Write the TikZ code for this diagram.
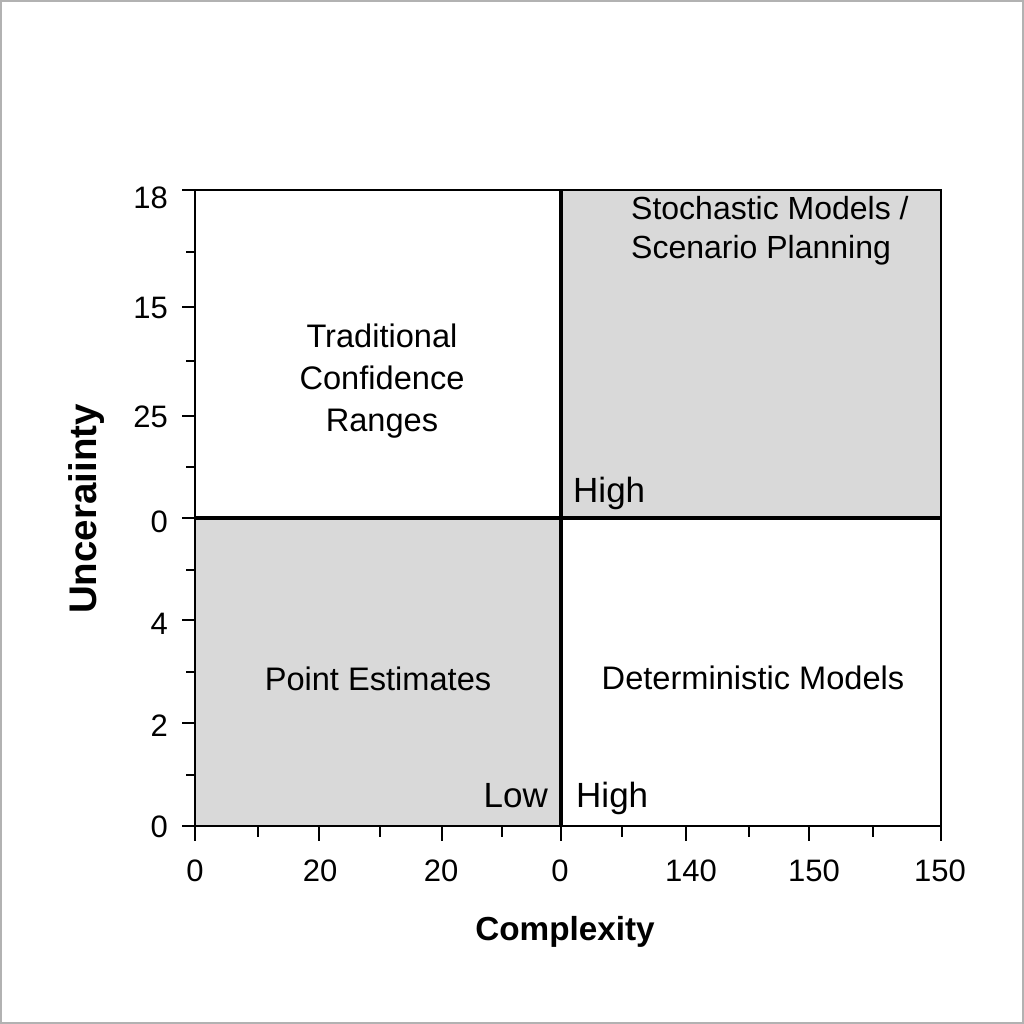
\documentclass[tikz,border=0pt]{standalone}
\usepackage{fontspec}
\setmainfont{Liberation Sans}
\begin{document}
\begin{tikzpicture}[x=1pt, y=-1pt,
    etiqueta/.style={inner sep=0pt, font=\fontsize{32.6}{40}\selectfont},
    extremo/.style={inner sep=0pt, font=\fontsize{35}{40}\selectfont},
    marca/.style={inner sep=0pt, font=\fontsize{31}{36}\selectfont},
    titulo/.style={inner sep=0pt, font=\bfseries\fontsize{33.3}{40}\selectfont}]
    \useasboundingbox (0,0) rectangle (1024,1024);
    % Marco exterior
    \draw[line width=2pt, black!30] (1,1) rectangle (1023,1023);

    % Cuadrantes
    \fill[black!15] (561,190) rectangle (941,518);
    \fill[black!15] (195,518) rectangle (561,826);
    \draw[line width=1.8pt] (195,190) rectangle (941,826);
    \draw[line width=3.5pt] (561,190) -- (561,826);
    \draw[line width=3.5pt] (195,518) -- (941,518);

    % Eje vertical
    \foreach \y/\ly/\t [count=\i] in {190/198/18, 307/308/15, 416/417/25, 518/522/0, 620/624/4, 723/726/2, 826/827/0}{
        \draw[line width=1.8pt] (182,\y) -- (195,\y);
        \node[marca, anchor=east] (my\i) at (168,\ly) {\t};
    }
    \foreach \y in {252, 361, 467, 570, 672, 775}
        \draw[line width=1.8pt] (186,\y) -- (195,\y);

    % Eje horizontal
    \foreach \x/\lx/\t [count=\i] in {195/195/0, 319/320/20, 442/441/20, 561/560/0, 686/691/140, 809/814/150, 941/940/150}{
        \draw[line width=1.8pt] (\x,826) -- (\x,841);
        \node[marca] (mx\i) at (\lx,871) {\t};
    }
    \foreach \x in {258, 380, 502, 622, 749, 873}
        \draw[line width=1.8pt] (\x,826) -- (\x,837);

    % Textos de cuadrantes
    \node[etiqueta, align=center, anchor=north, font=\fontsize{32.6}{42}\selectfont] (tradicional) at (382,324) {Traditional\\Confidence\\Ranges};
    \node[etiqueta, align=left, anchor=north west, font=\fontsize{32}{39}\selectfont] (estocastico) at (631,196) {Stochastic Models /\\Scenario Planning};
    \node[etiqueta, anchor=base] (puntual) at (378,690) {Point Estimates};
    \node[etiqueta, anchor=base] (determinista) at (753,689) {Deterministic Models};
    \node[extremo, anchor=base west] (altoarriba) at (573,502) {High};
    \node[extremo, anchor=base east] (bajo) at (548,807) {Low};
    \node[extremo, anchor=base west] (altoabajo) at (576,807) {High};

    % Titulos
    \node[titulo, anchor=base] (complejidad) at (565,940) {Complexity};
    \node[titulo, font=\bfseries\fontsize{38.5}{40}\selectfont, rotate=90, anchor=base] (incertidumbre) at (96,509) {Unceraiinty};
\end{tikzpicture}
\end{document}
